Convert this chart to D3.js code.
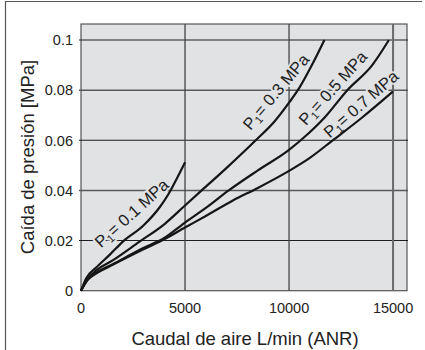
<!DOCTYPE html>
<html>
<head>
  <meta charset="utf-8">
  <title>Caida de presion</title>
  <script src="https://cdnjs.cloudflare.com/ajax/libs/d3/7.8.5/d3.min.js"></script>
<style>
body { margin: 0; background: #fff; }
svg { display: block; font-family: "Liberation Sans", Arial, sans-serif; }
</style>
</head>
<body>
<svg width="425" height="350"></svg>
<script>
// chart data
var xTicks = [0, 5000, 10000, 15000];
var yTicks = [0, 0.02, 0.04, 0.06, 0.08, 0.1];
var yTickLabels = ["0", "0.02", "0.04", "0.06", "0.08", "0.1"];

var pressures = ["0.1", "0.3", "0.5", "0.7"];

var flow01 = [0, 250, 700, 1400, 2000, 3000, 3800, 4200, 4650, 5000];
var drop01 = [0, 0.005, 0.009, 0.0145, 0.0195, 0.026, 0.0335, 0.0385, 0.0455, 0.0512];

var flow03 = [0, 300, 800, 1500, 2800, 4000, 5000, 5800, 7000, 8400, 9300, 10000, 10500, 11100, 11700];
var drop03 = [0, 0.0045, 0.0085, 0.012, 0.0195, 0.0265, 0.034, 0.04, 0.049, 0.06, 0.0675, 0.075, 0.081, 0.09, 0.1];

var flow05 = [0, 300, 800, 1500, 3000, 4000, 5000, 6000, 7100, 8500, 10000, 10700, 11700, 12800, 14000, 14800];
var drop05 = [0, 0.0042, 0.0075, 0.0105, 0.017, 0.021, 0.0272, 0.033, 0.04, 0.048, 0.0562, 0.061, 0.069, 0.08, 0.09, 0.1];

var flow07 = [0, 300, 800, 1500, 3000, 4000, 5000, 6000, 7300, 8500, 10000, 11000, 12100, 13500, 15000];
var drop07 = [0, 0.0041, 0.0072, 0.0102, 0.0165, 0.0205, 0.0252, 0.0298, 0.036, 0.041, 0.0478, 0.053, 0.06, 0.069, 0.0795];

var xTitle = "Caudal de aire L/min (ANR)";
var yTitle = "Caída de presión [MPa]";

var series = [
  {p: pressures[0], x: flow01, y: drop01},
  {p: pressures[1], x: flow03, y: drop03},
  {p: pressures[2], x: flow05, y: drop05},
  {p: pressures[3], x: flow07, y: drop07}
];

var svg = d3.select("svg");
var bg = "#e1e2e4";

var xScale = d3.scaleLinear().domain([0, 15670]).range([81, 407]);
var yScale = d3.scaleLinear().domain([0, 0.1064]).range([290.7, 24]);

// outer frame (top and left only)
svg.append("path")
  .attr("d", "M5.5,350 L5.5,1.5 L422,1.5")
  .attr("fill", "none")
  .attr("stroke", "#555")
  .attr("stroke-width", 1.2);

// plot background
svg.append("rect")
  .attr("x", xScale(0))
  .attr("y", yScale.range()[1])
  .attr("width", xScale.range()[1] - xScale(0))
  .attr("height", yScale(0) - yScale.range()[1])
  .attr("fill", bg)
  .attr("stroke", "#555")
  .attr("stroke-width", 1.2);

// grid lines
var g = svg.append("g");
g.selectAll("line.h")
  .data(yTicks.slice(1))
  .enter().append("line")
  .attr("class", "h")
  .attr("x1", xScale(0) - 2)
  .attr("x2", xScale.range()[1] + 1)
  .attr("y1", function(d) { return yScale(d); })
  .attr("y2", function(d) { return yScale(d); })
  .attr("stroke", function(d, i) { return i % 2 == 0 ? "#1e1e1e" : "#5a5a5a"; })
  .attr("stroke-width", function(d, i) { return i % 2 == 0 ? 1.1 : 1.5; });

g.selectAll("line.v")
  .data(xTicks.slice(1))
  .enter().append("line")
  .attr("class", "v")
  .attr("x1", function(d) { return xScale(d); })
  .attr("x2", function(d) { return xScale(d); })
  .attr("y1", yScale.range()[1])
  .attr("y2", yScale(0))
  .attr("stroke", function(d) { return d == 15000 ? "#6a6a6a" : "#444"; })
  .attr("stroke-width", function(d) { return d == 15000 ? 2 : 1.3; });

// tick labels
svg.selectAll("text.xt")
  .data(xTicks)
  .enter().append("text")
  .attr("class", "xt")
  .attr("x", function(d) { return xScale(d); })
  .attr("y", 313)
  .attr("text-anchor", "middle")
  .attr("font-size", "14.5px")
  .attr("fill", "#222")
  .text(function(d) { return d; });

svg.selectAll("text.yt")
  .data(yTicks)
  .enter().append("text")
  .attr("class", "yt")
  .attr("x", 73)
  .attr("y", function(d) { return yScale(d); })
  .attr("dy", "0.36em")
  .attr("text-anchor", "end")
  .attr("font-size", "14.5px")
  .attr("fill", "#222")
  .text(function(d, i) { return yTickLabels[i]; });

// axis titles
svg.append("text")
  .attr("x", 245)
  .attr("y", 344.5)
  .attr("text-anchor", "middle")
  .attr("font-size", "18.5px")
  .attr("fill", "#222")
  .text(xTitle);

svg.append("text")
  .attr("transform", "translate(34,157) rotate(-90)")
  .attr("text-anchor", "middle")
  .attr("font-size", "18.5px")
  .attr("fill", "#222")
  .text(yTitle);

// curve labels (drawn before the curves so the halo only breaks grid lines)
var labelPos = [[2437, 0.0309, -42], [9375, 0.0793, -50], [12115, 0.0808, -48], [13462, 0.0744, -41]];
series.forEach(function(s, i) {
  var lp = labelPos[i];
  var t = svg.append("text")
    .attr("transform", "translate(" + xScale(lp[0]) + "," + yScale(lp[1]) + ") rotate(" + lp[2] + ")")
    .attr("text-anchor", "middle")
    .attr("y", 5.5)
    .attr("font-size", "16.5px")
    .attr("fill", "#222")
    .attr("stroke", bg)
    .attr("stroke-width", 4)
    .attr("paint-order", "stroke")
    .attr("stroke-linejoin", "round");
  t.append("tspan").text("P");
  t.append("tspan").attr("font-size", "11px").attr("dy", "3").text("1");
  t.append("tspan").attr("dy", "-3").text("= " + s.p + " MPa");
});

// curves
var line = d3.line()
  .x(function(d) { return xScale(d[0]); })
  .y(function(d) { return yScale(d[1]); })
  .curve(d3.curveMonotoneX);

svg.selectAll("path.curve")
  .data(series)
  .enter().append("path")
  .attr("class", "curve")
  .attr("d", function(s) { return line(d3.zip(s.x, s.y)); })
  .attr("fill", "none")
  .attr("stroke", "#161616")
  .attr("stroke-width", 2.2)
  .attr("stroke-linejoin", "round");
</script>
</body>
</html>
